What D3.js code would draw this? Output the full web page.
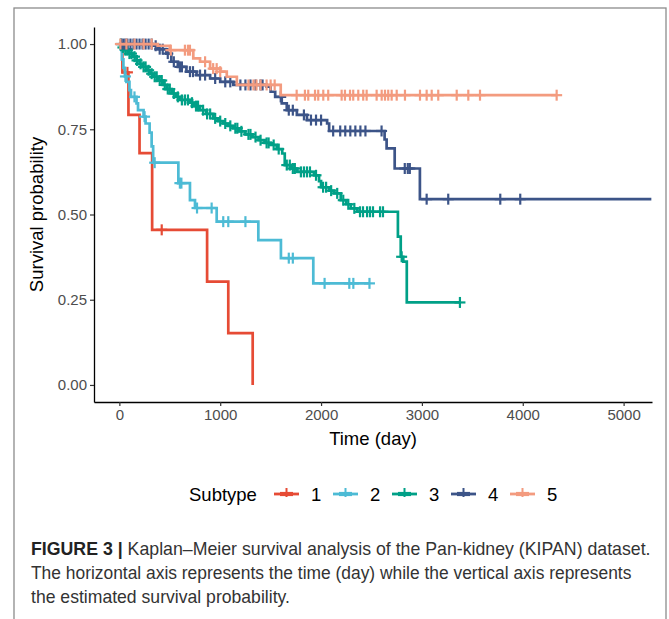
<!DOCTYPE html>
<html>
<head>
<meta charset="utf-8">
<script src="https://cdn.jsdelivr.net/npm/d3@7"></script>
<style>
  html, body { margin: 0; padding: 0; background: #ffffff; }
  svg { display: block; font-family: "Liberation Sans", Arial, Helvetica, sans-serif; }
</style>
</head>
<body>
<svg id="chart" width="669" height="619"></svg>
<script>
// ---------------- DATA ----------------
const subtypes = ["1", "2", "3", "4", "5"];
const colors = ["#E64B35", "#4DBBD5", "#00A087", "#3C5488", "#F39B7F"];

const xTicks = [0, 1000, 2000, 3000, 4000, 5000];
const yTicks = [0, 0.25, 0.5, 0.75, 1.0];
const tMax = 5030;

// Subtype 1
const s1Time = [0, 30, 90, 200, 325, 870, 1080, 1322];
const s1Surv = [1, 0.917, 0.792, 0.68, 0.455, 0.303, 0.152, 0];
const s1End = 1322;
const s1Censor = [80, 420];

// Subtype 2
const s2Time = [0, 10, 25, 40, 55, 70, 100, 115, 170, 185, 240, 260, 300, 320, 335, 585, 700, 750, 965, 1378, 1602, 1923];
const s2Surv = [1, 0.985, 0.955, 0.93, 0.905, 0.889, 0.865, 0.845, 0.826, 0.806, 0.787, 0.767, 0.74, 0.70, 0.652, 0.592, 0.542, 0.519, 0.479, 0.425, 0.372, 0.298];
const s2End = 2485;
const s2Censor = [60, 150, 250, 350, 600, 615, 770, 915, 1030, 1080, 1250, 1680, 1720, 2035, 2280, 2320, 2480];

// Subtype 3
const s3Time = [0, 20, 50, 90, 130, 170, 200, 230, 270, 300, 330, 380, 430, 470, 520, 560, 600, 700, 740, 800, 860, 930, 980, 1030, 1080, 1130, 1190, 1250, 1320, 1380, 1440, 1500, 1560, 1615, 1640, 1700, 1765, 1930, 1980, 2000, 2080, 2130, 2195, 2250, 2295, 2360, 2762, 2790, 2815, 2850];
const s3Surv = [1, 0.99, 0.982, 0.972, 0.963, 0.952, 0.942, 0.933, 0.923, 0.913, 0.904, 0.893, 0.88, 0.868, 0.855, 0.845, 0.836, 0.828, 0.818, 0.806, 0.795, 0.782, 0.774, 0.767, 0.76, 0.753, 0.744, 0.735, 0.727, 0.718, 0.71, 0.704, 0.692, 0.679, 0.645, 0.635, 0.625, 0.615, 0.598, 0.58, 0.57, 0.562, 0.542, 0.53, 0.518, 0.508, 0.435, 0.376, 0.362, 0.242];
const s3End = 3377;
const s3Censor = [15, 35, 60, 80, 100, 120, 150, 175, 210, 240, 260, 290, 320, 350, 370, 400, 420, 450, 480, 500, 540, 580, 620, 650, 680, 720, 760, 780, 830, 870, 900, 950, 1000, 1050, 1100, 1150, 1170, 1210, 1280, 1300, 1350, 1400, 1460, 1480, 1530, 1580, 1660, 1690, 1720, 1740, 1800, 1830, 1860, 1890, 1950, 2020, 2050, 2100, 2160, 2220, 2270, 2330, 2386, 2416, 2456, 2485, 2515, 2585, 2614, 2799, 3377];

// Subtype 4
const s4Time = [0, 330, 380, 465, 515, 580, 665, 765, 900, 1000, 1130, 1460, 1500, 1545, 1610, 1660, 1760, 1860, 2060, 2080, 2630, 2650, 2730, 2980];
const s4Surv = [1, 0.995, 0.985, 0.972, 0.948, 0.933, 0.919, 0.909, 0.899, 0.889, 0.88, 0.875, 0.86, 0.845, 0.826, 0.806, 0.792, 0.777, 0.767, 0.745, 0.72, 0.694, 0.635, 0.545];
const s4End = 5275;
const s4Censor = [20, 40, 60, 80, 110, 140, 170, 200, 230, 260, 290, 320, 360, 400, 430, 480, 540, 600, 620, 700, 730, 800, 850, 950, 1050, 1100, 1200, 1250, 1300, 1350, 1400, 1420, 1600, 1680, 1720, 1830, 1900, 1950, 2000, 2120, 2190, 2240, 2290, 2340, 2390, 2440, 2600, 2830, 2860, 2880, 3047, 3261, 3777, 3975];

// Subtype 5
const s5Time = [0, 380, 500, 733, 800, 900, 1000, 1065, 1165, 1600];
const s5Surv = [1, 0.995, 0.982, 0.958, 0.948, 0.928, 0.919, 0.904, 0.88, 0.85];
const s5End = 4340;
const s5Censor = [10, 70, 150, 240, 320, 510, 650, 680, 700, 850, 930, 965, 1000, 1280, 1330, 1360, 1400, 1460, 1500, 1540, 1758, 1840, 1873, 1940, 1972, 2022, 2071, 2204, 2237, 2287, 2319, 2369, 2418, 2452, 2551, 2601, 2634, 2666, 2700, 2750, 2832, 2981, 3047, 3097, 3162, 3345, 3460, 3576, 4336];

const captionBold = "FIGURE 3 |";
const captionLines = [
  " Kaplan\u2013Meier survival analysis of the Pan-kidney (KIPAN) dataset.",
  "The horizontal axis represents the time (day) while the vertical axis represents",
  "the estimated survival probability."
];

// ---------------- DRAW ----------------
const svg = d3.select("#chart");

const series = [
  {time: s1Time, surv: s1Surv, end: s1End, censor: s1Censor},
  {time: s2Time, surv: s2Surv, end: s2End, censor: s2Censor},
  {time: s3Time, surv: s3Surv, end: s3End, censor: s3Censor},
  {time: s4Time, surv: s4Surv, end: s4End, censor: s4Censor},
  {time: s5Time, surv: s5Surv, end: s5End, censor: s5Censor}
];

// outer frame
svg.append("rect")
  .attr("x", 14).attr("y", 8).attr("width", 652).attr("height", 640)
  .attr("fill", "none").attr("stroke", "#8c8c8c").attr("stroke-width", 1.3);

const plotL = 94, plotR = 652, plotT = 27, plotB = 402;
const x = d3.scaleLinear().domain([-0.05 * tMax, 1.05 * tMax]).range([plotL, plotR]);
const y = d3.scaleLinear().domain([-0.05, 1.05]).range([plotB, plotT]);

svg.append("clipPath").attr("id", "clip")
  .append("rect").attr("x", plotL).attr("y", plotT - 10).attr("width", plotR - plotL).attr("height", plotB - plotT + 10);

// axes
const xAxis = svg.append("g").attr("transform", `translate(0,${plotB})`)
  .call(d3.axisBottom(x).tickValues(xTicks).tickSize(4).tickSizeOuter(0).tickPadding(3).tickFormat(d3.format("d")));
const yAxis = svg.append("g").attr("transform", `translate(${plotL},0)`)
  .call(d3.axisLeft(y).tickValues(yTicks).tickSize(4).tickSizeOuter(0).tickPadding(3).tickFormat(d3.format(".2f")));
[xAxis, yAxis].forEach(g => {
  g.select(".domain").attr("stroke", "#000").attr("stroke-width", 1.3);
  g.selectAll(".tick line").attr("stroke", "#333").attr("stroke-width", 1.2);
  g.selectAll(".tick text").attr("fill", "#4d4d4d").style("font-size", "15px")
    .style("font-family", "'Liberation Sans', Arial, sans-serif");
});

// axis titles
svg.append("text").attr("x", (plotL + plotR) / 2).attr("y", 445)
  .attr("text-anchor", "middle").style("font-size", "18.5px").attr("fill", "#000").text("Time (day)");
svg.append("text").attr("transform", `translate(43,${y(0.5)}) rotate(-90)`)
  .attr("text-anchor", "middle").style("font-size", "18.5px").attr("fill", "#000").text("Survival probability");

// curves
const line = d3.line().x(d => x(d[0])).y(d => y(d[1])).curve(d3.curveStepAfter);
const plotG = svg.append("g").attr("clip-path", "url(#clip)");

function survAt(s, t) {
  const i = d3.bisectRight(s.time, t) - 1;
  return s.surv[Math.max(0, i)];
}

const arm = 5.5;
series.forEach((s, k) => {
  const pts = s.time.map((t, i) => [t, s.surv[i]]);
  const last = pts[pts.length - 1];
  if (s.end > last[0]) pts.push([s.end, last[1]]);
  const g = plotG.append("g");
  g.append("path").attr("d", line(pts)).attr("fill", "none")
    .attr("stroke", colors[k]).attr("stroke-width", 2.7).attr("stroke-linejoin", "miter");
  const cg = g.append("g").attr("stroke", colors[k]).attr("stroke-width", 2.2);
  s.censor.forEach(t => {
    const cx = x(t), cy = y(survAt(s, t));
    cg.append("line").attr("x1", cx - arm).attr("x2", cx + arm).attr("y1", cy).attr("y2", cy);
    cg.append("line").attr("x1", cx).attr("x2", cx).attr("y1", cy - arm).attr("y2", cy + arm);
  });
});

// legend
const legY = 494;
svg.append("text").attr("x", 189).attr("y", legY + 6.5).style("font-size", "18.5px").attr("fill", "#000").text("Subtype");
subtypes.forEach((name, k) => {
  const kx = 274 + k * 59;
  const g = svg.append("g").attr("stroke", colors[k]);
  g.append("line").attr("x1", kx).attr("x2", kx + 25).attr("y1", legY).attr("y2", legY).attr("stroke-width", 2.8);
  g.append("line").attr("x1", kx + 6).attr("x2", kx + 19).attr("y1", legY).attr("y2", legY).attr("stroke-width", 4.2);
  g.append("line").attr("x1", kx + 12.5).attr("x2", kx + 12.5).attr("y1", legY - 6).attr("y2", legY + 3).attr("stroke-width", 2);
  svg.append("text").attr("x", kx + 37).attr("y", legY + 6.5).style("font-size", "18.5px").attr("fill", "#000").text(name);
});

// caption
const capX = 31, capYs = [555, 579, 603], capW = [620, 601, 259];
captionLines.forEach((ln, i) => {
  const t = svg.append("text").attr("transform", `translate(${capX},${capYs[i]})`)
    .style("font-size", "17.5px").attr("fill", "#333");
  if (i === 0) t.append("tspan").style("font-weight", "bold").attr("fill", "#222").text(captionBold);
  t.append("tspan").text(ln);
  const w = t.node().getComputedTextLength();
  t.attr("transform", `translate(${capX},${capYs[i]}) scale(${capW[i] / w},1)`);
});
</script>
</body>
</html>
